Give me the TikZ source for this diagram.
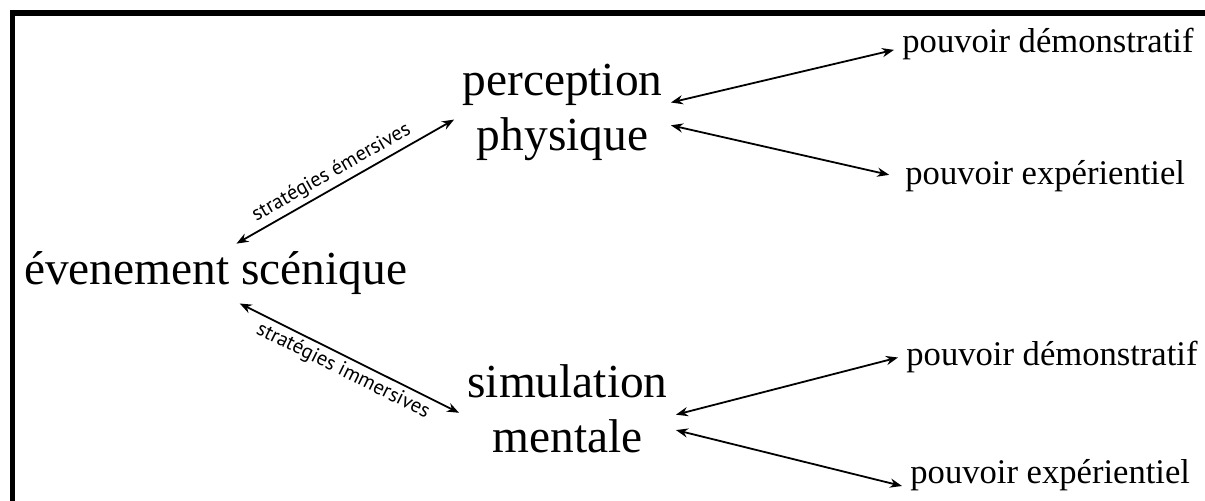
\documentclass[tikz,border=0pt]{standalone}
\usepackage{fontspec}
\setmainfont{Liberation Serif}
\newfontfamily\stratfont{PT Sans}
\usetikzlibrary{arrows.meta}

\begin{document}
\begin{tikzpicture}[x=0.5pt, y=-0.5pt,
    >={Stealth[length=6pt,width=4.6pt]},
    every node/.style={inner sep=4pt},
    big/.style={align=center, font=\fontsize{23.7}{27.5}\selectfont},
    power/.style={anchor=base west, font=\fontsize{17.3}{20}\selectfont},
    link/.style={<->, line width=0.9pt},
    strat/.style={sloped, inner sep=2pt, font=\stratfont\fontsize{10.3}{12}\selectfont}]

    \useasboundingbox (0,0) rectangle (1205,501);

    % frame, cut at the right and at the bottom
    \draw[line width=2.75pt] (12.5,501) -- (12.5,13) -- (1205,13);


    % the stage event
    \node[big, anchor=base] (event) at (215.5,285) {évenement scénique};

    % the two ways of receiving it
    \node[big] (percep) at (562.5,112) {perception\\physique};
    \node[big] (simul) at (567.5,409) {simulation\\mentale};

    % powers
    \node[power] (percep-dem) at (894,53) {pouvoir démonstratif};
    \node[power] (percep-exp) at (897,185) {pouvoir expérientiel};
    \node[power] (simul-dem) at (898,366) {pouvoir démonstratif};
    \node[power] (simul-exp) at (902,484) {pouvoir expérientiel};


    % strategies
    \draw[link] (event.55) -- node[strat, above, pos=0.47] {stratégies émersives} (percep.184);
    \draw[link] (event.-51) -- node[strat, below] {stratégies immersives} (simul.182);

    % powers
    \draw[link] (percep.5) -- (percep-dem.182);
    \draw[link, shorten >=4pt] (percep.-7) -- (percep-exp.west);
    \draw[link] (simul.-3) -- (simul-dem.west);
    \draw[link] (simul.-11) -- (simul-exp.184);

\end{tikzpicture}
\end{document}
